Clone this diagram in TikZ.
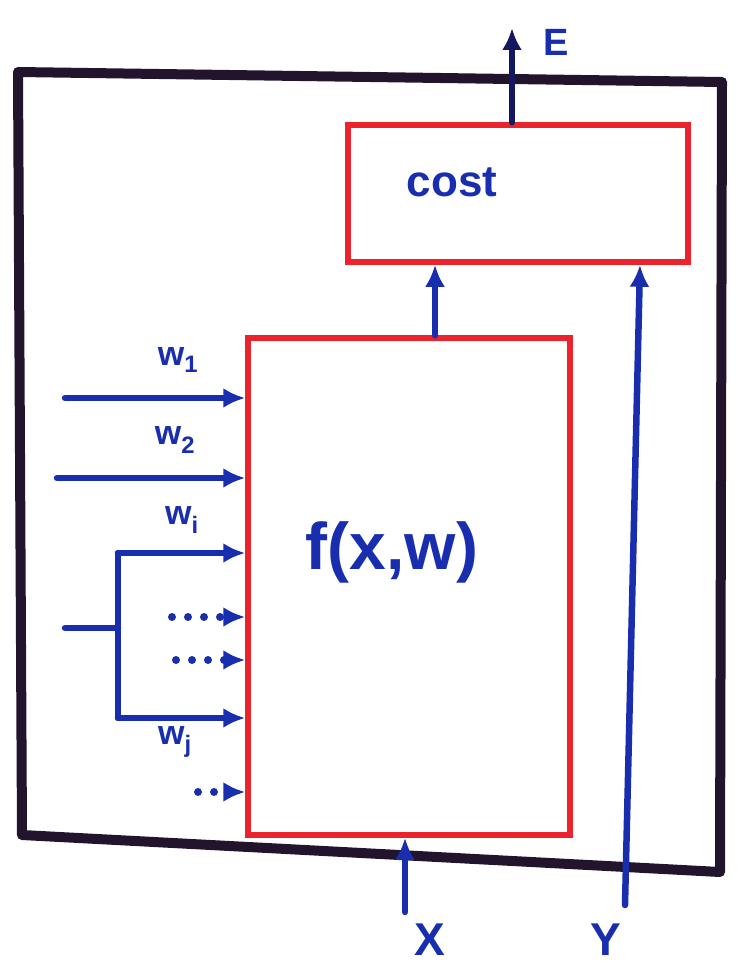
\documentclass[tikz,border=0pt]{standalone}
\usepackage{fontspec}
\setmainfont{Liberation Sans}
\usetikzlibrary{arrows.meta}
\definecolor{pblue}{RGB}{25,45,175}
\definecolor{pnavy}{RGB}{20,25,95}
\definecolor{pred}{RGB}{235,35,45}
\definecolor{pblack}{RGB}{35,20,45}
\begin{document}
\begin{tikzpicture}[x=1pt,y=-1pt,
  redbox/.style={draw=pred,line width=5.5pt,inner sep=0pt},
  bline/.style={draw=pblue,line width=6.5pt,line cap=round},
  tip/.style={-{Latex[length=22pt,width=20pt]}},
  wire/.style={bline,tip},
  dotwire/.style={draw=pblue,line width=8pt,line cap=round,dash pattern=on 0pt off 16pt,tip},
  lbl/.style={text=pblue,inner sep=0pt}]
\useasboundingbox (0,0) rectangle (742,971);
% outer box
\draw[pblack,line width=10pt,line join=round] (18,72) -- (722,82) -- (720,872) -- (22,835) -- cycle;
% red boxes
\node[redbox,minimum width=340pt,minimum height=137pt] (cost) at (518,193.5) {};
\node[redbox,minimum width=322pt,minimum height=497pt] (fbox) at (409,586.5) {};
\node[lbl,font=\bfseries\fontsize{44}{44}\selectfont] (costlbl) at (452,182) {cost};
\node[lbl,font=\bfseries\fontsize{66}{66}\selectfont] (flbl) at (392,552) {f(x,w)};
% E output
\coordinate (Etop) at (512,28);
\draw[bline,pnavy,tip] (cost.north -| Etop) -- (Etop);
\node[lbl,font=\bfseries\fontsize{38}{38}\selectfont] (E) at (556,42) {E};
% f to cost
\coordinate (fc) at (435,0);
\draw[wire] (fbox.north -| fc) -- (cost.south -| fc);
% Y
\coordinate (Ys) at (625,905);
\coordinate (Yt) at (640,0);
\draw[wire] (Ys) -- (cost.south -| Yt);
\node[lbl,font=\bfseries\fontsize{46}{46}\selectfont] (Y) at (606,940) {Y};
% X
\coordinate (Xs) at (405,912);
\draw[wire] (Xs) -- (fbox.south -| Xs);
\node[lbl,font=\bfseries\fontsize{46}{46}\selectfont] (X) at (430,940) {X};
% w1, w2
\coordinate (w1s) at (65,398);
\draw[wire] (w1s) -- (fbox.west |- w1s);
\node[lbl,font=\bfseries\fontsize{34}{34}\selectfont] (w1) at (178,360) {w\textsubscript{1}};
\coordinate (w2s) at (57,478);
\draw[wire] (w2s) -- (fbox.west |- w2s);
\node[lbl,font=\bfseries\fontsize{34}{34}\selectfont] (w2) at (175,440) {w\textsubscript{2}};
% branch
\coordinate (bin) at (65,628);
\coordinate (bt) at (118,553);
\coordinate (bb) at (118,718);
\draw[bline] (bin) -- (bt |- bin);
\draw[bline,line join=round] (fbox.west |- bt) ++(-12,0) -- (bt) -- (bb) -- ++(110,0);
\draw[wire] (bt) -- (fbox.west |- bt);
\draw[wire] (bb) -- (fbox.west |- bb);
\node[lbl,font=\bfseries\fontsize{34}{34}\selectfont] (wi) at (182,520) {w\textsubscript{i}};
\node[lbl,font=\bfseries\fontsize{34}{34}\selectfont] (wj) at (175,742) {w\textsubscript{j}};
% dotted inputs
\coordinate (d1) at (172,617);
\draw[dotwire] (d1) -- (fbox.west |- d1);
\coordinate (d2) at (176,660);
\draw[dotwire] (d2) -- (fbox.west |- d2);
\coordinate (d3) at (198,792);
\draw[dotwire] (d3) -- (fbox.west |- d3);
\end{tikzpicture}
\end{document}
